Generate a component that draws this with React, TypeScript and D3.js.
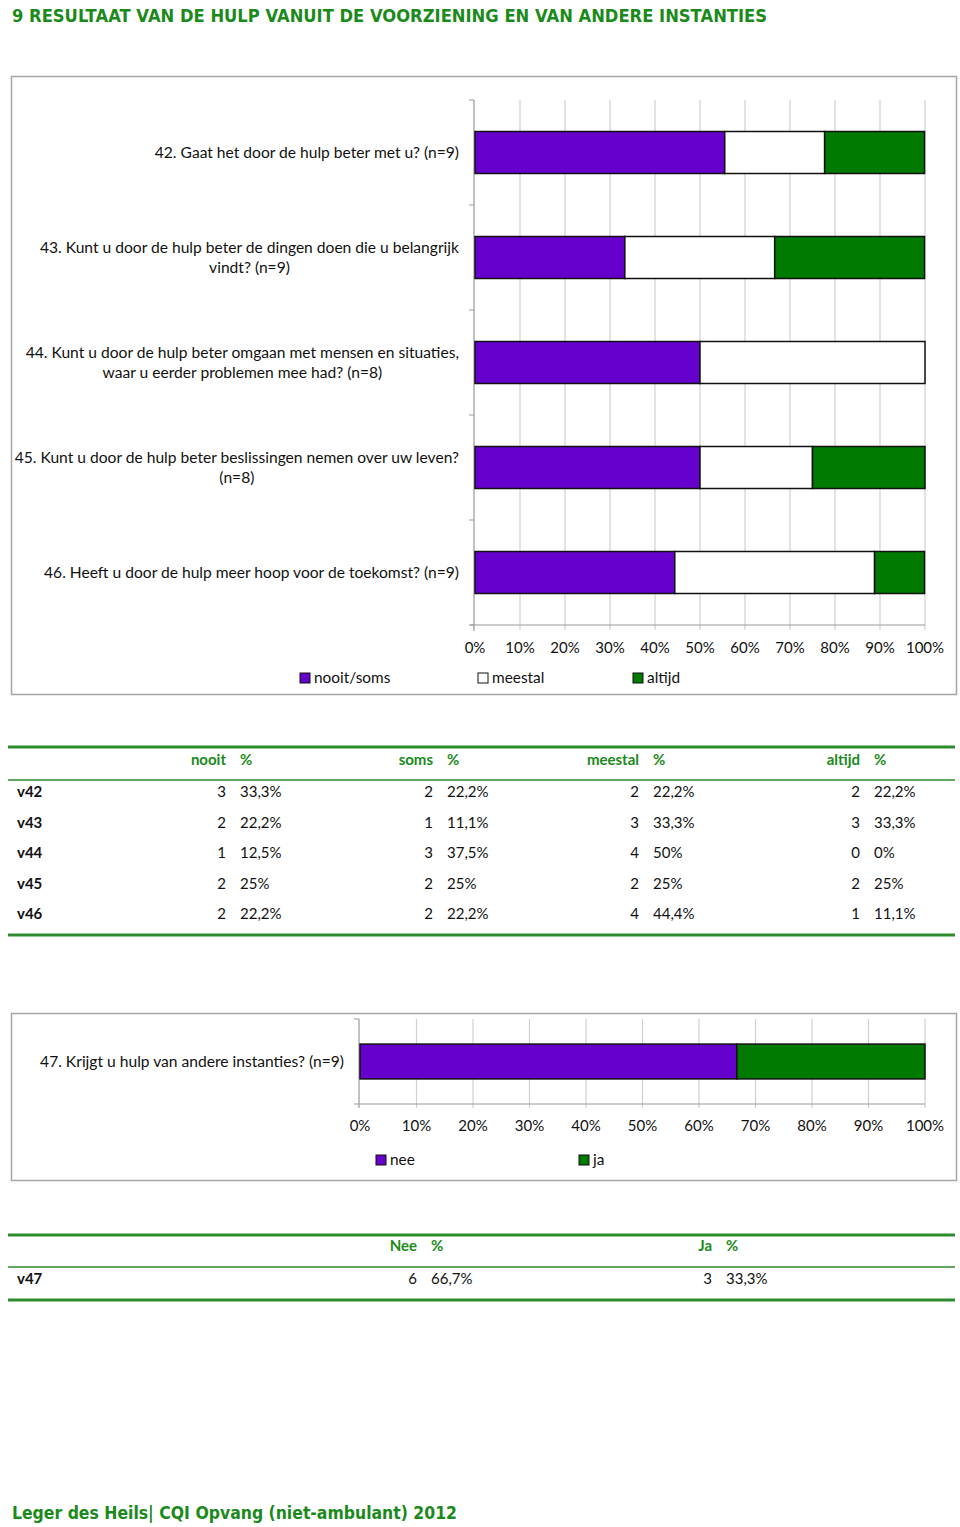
import React, { useEffect, useRef } from 'react';
import * as d3 from 'd3';

// chart 1: questions 42-46
const questions = [
  ['42. Gaat het door de hulp beter met u? (n=9)'],
  ['43. Kunt u door de hulp beter de dingen doen die u belangrijk', 'vindt?  (n=9)'],
  ['44. Kunt u door de hulp beter omgaan met mensen en situaties,', 'waar u eerder problemen mee had? (n=8)'],
  ['45. Kunt u door de hulp beter beslissingen nemen over uw leven?', '(n=8)'],
  ['46. Heeft u door de hulp meer hoop voor de toekomst? (n=9)'],
];
const rowCodes = ['v42', 'v43', 'v44', 'v45', 'v46'];
const nooitN = [3, 2, 1, 2, 2];
const nooitPct = [33.3, 22.2, 12.5, 25, 22.2];
const somsN = [2, 1, 3, 2, 2];
const somsPct = [22.2, 11.1, 37.5, 25, 22.2];
const meestalN = [2, 3, 4, 2, 4];
const meestalPct = [22.2, 33.3, 50, 25, 44.4];
const altijdN = [2, 3, 0, 2, 1];
const altijdPct = [22.2, 33.3, 0, 25, 11.1];

// chart 2: question 47
const question47 = '47. Krijgt u hulp van andere instanties? (n=9)';
const neeN = [6];
const neePct = [66.7];
const jaN = [3];
const jaPct = [33.3];

const ticks = [0, 10, 20, 30, 40, 50, 60, 70, 80, 90, 100];

const PURPLE = '#6600cc';
const GREEN = '#007a00';
const TXTGREEN = '#1a8a1a';
const FONT = 'Lato, "Open Sans", sans-serif';
const LABEL_SIZE = '15.6px';

const fmtPct = (v: number) => (Number.isInteger(v) ? `${v}%` : `${v.toFixed(1).replace('.', ',')}%`);

const App = () => {
  const svgRef = useRef<SVGSVGElement>(null);

  useEffect(() => {
    const svg = d3.select(svgRef.current);
    svg.selectAll('*').remove();
    svg.style('font-family', FONT);

    // Title
    svg.append('text')
      .attr('x', 12).attr('y', 22)
      .attr('textLength', 755).attr('lengthAdjust', 'spacingAndGlyphs')
      .style('font-family', '"DejaVu Sans", sans-serif')
      .style('font-weight', 'bold').style('font-size', '17px')
      .attr('fill', TXTGREEN)
      .text('9 RESULTAAT VAN DE HULP VANUIT DE VOORZIENING EN VAN ANDERE INSTANTIES');

    // Footer
    svg.append('text')
      .attr('x', 12).attr('y', 1519)
      .attr('textLength', 445).attr('lengthAdjust', 'spacingAndGlyphs')
      .style('font-family', '"DejaVu Sans", sans-serif')
      .style('font-weight', 'bold').style('font-size', '17px')
      .attr('fill', TXTGREEN)
      .text('Leger des Heils|  CQI Opvang (niet-ambulant) 2012');

    // ---------- Chart 1 ----------
    svg.append('rect')
      .attr('x', 11.5).attr('y', 76.5).attr('width', 945).attr('height', 618)
      .attr('fill', 'white').attr('stroke', '#a6a6a6').attr('stroke-width', 1.5);

    const x1 = d3.scaleLinear().domain([0, 100]).range([475, 925]);
    const y1 = d3.scaleBand<number>().domain(d3.range(questions.length))
      .range([100, 625]).paddingInner(0.6).paddingOuter(0.3);

    const g1 = svg.append('g');
    // gridlines
    g1.selectAll('.grid').data(ticks.slice(1)).enter().append('line')
      .attr('x1', d => x1(d)).attr('x2', d => x1(d))
      .attr('y1', 100).attr('y2', 630)
      .attr('stroke', '#d0d0d0').attr('stroke-width', 1.2);
    // axes
    g1.append('line').attr('x1', 474).attr('x2', 474).attr('y1', 100).attr('y2', 631)
      .attr('stroke', '#999').attr('stroke-width', 1.2);
    g1.append('line').attr('x1', 470).attr('x2', 925).attr('y1', 625).attr('y2', 625)
      .attr('stroke', '#999').attr('stroke-width', 1.2);
    g1.selectAll('.ytick').data(d3.range(questions.length + 1)).enter().append('line')
      .attr('x1', 469).attr('x2', 474)
      .attr('y1', i => 100 + i * y1.step()).attr('y2', i => 100 + i * y1.step())
      .attr('stroke', '#999');

    const rows1 = questions.map((q, i) => ({
      nooitsoms: nooitPct[i] + somsPct[i],
      meestal: meestalPct[i],
      altijd: altijdPct[i],
    }));
    const keys1 = ['nooitsoms', 'meestal', 'altijd'];
    const colors1: Record<string, string> = { nooitsoms: PURPLE, meestal: 'white', altijd: GREEN };
    const stacked1 = d3.stack<any>().keys(keys1)(rows1 as any);
    stacked1.forEach(layer => {
      g1.selectAll(`.bar-${layer.key}`).data(layer.map((d, i) => ({ d, i }))
        .filter(o => o.d[1] - o.d[0] > 0)).enter().append('rect')
        .attr('x', o => x1(o.d[0])).attr('width', o => x1(o.d[1]) - x1(o.d[0]))
        .attr('y', o => y1(o.i)!).attr('height', y1.bandwidth())
        .attr('fill', colors1[layer.key]).attr('stroke', '#111').attr('stroke-width', 1.5);
    });

    // category labels
    questions.forEach((lines, i) => {
      const cy = y1(i)! + y1.bandwidth() / 2;
      const t = g1.append('text').style('font-size', LABEL_SIZE).attr('fill', '#111');
      if (lines.length === 1) {
        t.attr('x', 459).attr('y', cy + 5).attr('text-anchor', 'end').text(lines[0]);
      } else {
        const tmp = g1.append('text').style('font-size', LABEL_SIZE).text(lines[0]);
        const w = (tmp.node() as SVGTextElement).getComputedTextLength();
        tmp.remove();
        const cx = 459 - w / 2;
        lines.forEach((ln, j) => {
          t.append('tspan').attr('x', cx).attr('y', cy - 5 + j * 20).attr('text-anchor', 'middle').text(ln);
        });
      }
    });

    // x tick labels
    g1.selectAll('.xlab').data(ticks).enter().append('text')
      .attr('x', d => x1(d)).attr('y', 653).attr('text-anchor', 'middle')
      .style('font-size', '15px').attr('fill', '#111').text(d => `${d}%`);

    // legend
    const legend1 = [
      { label: 'nooit/soms', color: PURPLE, x: 300 },
      { label: 'meestal', color: 'white', x: 478 },
      { label: 'altijd', color: GREEN, x: 633 },
    ];
    legend1.forEach(l => {
      g1.append('rect').attr('x', l.x).attr('y', 673).attr('width', 10).attr('height', 10)
        .attr('fill', l.color).attr('stroke', '#111');
      g1.append('text').attr('x', l.x + 14).attr('y', 683).style('font-size', '15.4px')
        .attr('fill', '#111').text(l.label);
    });

    // ---------- Table 1 ----------
    const t1 = svg.append('g');
    t1.append('line').attr('x1', 8).attr('x2', 955).attr('y1', 747).attr('y2', 747)
      .attr('stroke', '#2e8b2e').attr('stroke-width', 3);
    t1.append('line').attr('x1', 8).attr('x2', 955).attr('y1', 780).attr('y2', 780)
      .attr('stroke', '#2e8b2e').attr('stroke-width', 1.5);
    t1.append('line').attr('x1', 8).attr('x2', 955).attr('y1', 935).attr('y2', 935)
      .attr('stroke', '#2e8b2e').attr('stroke-width', 3);
    const colRight = [226, 433, 639, 860];
    const headers1 = ['nooit', 'soms', 'meestal', 'altijd'];
    headers1.forEach((h, c) => {
      t1.append('text').attr('x', colRight[c]).attr('y', 765).attr('text-anchor', 'end')
        .style('font-size', '15px').style('font-weight', 'bold').attr('fill', TXTGREEN).text(h);
      t1.append('text').attr('x', colRight[c] + 14).attr('y', 765)
        .style('font-size', '15px').style('font-weight', 'bold').attr('fill', TXTGREEN).text('%');
    });
    const counts1 = [nooitN, somsN, meestalN, altijdN];
    const pcts1 = [nooitPct, somsPct, meestalPct, altijdPct];
    rowCodes.forEach((code, r) => {
      const yy = 797 + r * 30.5;
      t1.append('text').attr('x', 17).attr('y', yy).style('font-size', '15px')
        .style('font-weight', 'bold').attr('fill', '#111').text(code);
      counts1.forEach((arr, c) => {
        t1.append('text').attr('x', colRight[c]).attr('y', yy).attr('text-anchor', 'end')
          .style('font-size', '15px').attr('fill', '#111').text(arr[r]);
        t1.append('text').attr('x', colRight[c] + 14).attr('y', yy)
          .style('font-size', '15px').attr('fill', '#111').text(fmtPct(pcts1[c][r]));
      });
    });

    // ---------- Chart 2 ----------
    svg.append('rect')
      .attr('x', 11.5).attr('y', 1013.5).attr('width', 945).attr('height', 167)
      .attr('fill', 'white').attr('stroke', '#a6a6a6').attr('stroke-width', 1.5);
    const x2 = d3.scaleLinear().domain([0, 100]).range([360, 925]);
    const y2 = d3.scaleBand<number>().domain([0]).range([1019, 1104]).paddingInner(0.59).paddingOuter(0.295);
    const g2 = svg.append('g');
    g2.selectAll('.grid').data(ticks.slice(1)).enter().append('line')
      .attr('x1', d => x2(d)).attr('x2', d => x2(d))
      .attr('y1', 1019).attr('y2', 1108)
      .attr('stroke', '#d0d0d0').attr('stroke-width', 1.2);
    g2.append('line').attr('x1', 359).attr('x2', 359).attr('y1', 1019).attr('y2', 1108)
      .attr('stroke', '#999').attr('stroke-width', 1.2);
    g2.append('line').attr('x1', 354).attr('x2', 925).attr('y1', 1104).attr('y2', 1104)
      .attr('stroke', '#999').attr('stroke-width', 1.2);
    g2.append('line').attr('x1', 354).attr('x2', 359).attr('y1', 1019).attr('y2', 1019).attr('stroke', '#999');

    const stacked2 = d3.stack<any>().keys(['nee', 'ja'])([{ nee: neePct[0], ja: jaPct[0] }] as any);
    const colors2: Record<string, string> = { nee: PURPLE, ja: GREEN };
    stacked2.forEach(layer => {
      g2.selectAll(`.bar-${layer.key}`).data(layer).enter().append('rect')
        .attr('x', d => x2(d[0])).attr('width', d => x2(d[1]) - x2(d[0]))
        .attr('y', y2(0)!).attr('height', y2.bandwidth())
        .attr('fill', colors2[layer.key]).attr('stroke', '#111').attr('stroke-width', 1.5);
    });
    g2.append('text').attr('x', 344).attr('y', y2(0)! + y2.bandwidth() / 2 + 5)
      .attr('text-anchor', 'end').style('font-size', LABEL_SIZE).attr('fill', '#111').text(question47);
    g2.selectAll('.xlab').data(ticks).enter().append('text')
      .attr('x', d => x2(d)).attr('y', 1131).attr('text-anchor', 'middle')
      .style('font-size', '15px').attr('fill', '#111').text(d => `${d}%`);
    const legend2 = [
      { label: 'nee', color: PURPLE, x: 376 },
      { label: 'ja', color: GREEN, x: 579 },
    ];
    legend2.forEach(l => {
      g2.append('rect').attr('x', l.x).attr('y', 1155).attr('width', 10).attr('height', 10)
        .attr('fill', l.color).attr('stroke', '#111');
      g2.append('text').attr('x', l.x + 14).attr('y', 1165).style('font-size', '15.4px')
        .attr('fill', '#111').text(l.label);
    });

    // ---------- Table 2 ----------
    const t2 = svg.append('g');
    t2.append('line').attr('x1', 8).attr('x2', 955).attr('y1', 1235).attr('y2', 1235)
      .attr('stroke', '#2e8b2e').attr('stroke-width', 3);
    t2.append('line').attr('x1', 8).attr('x2', 955).attr('y1', 1267).attr('y2', 1267)
      .attr('stroke', '#2e8b2e').attr('stroke-width', 1.5);
    t2.append('line').attr('x1', 8).attr('x2', 955).attr('y1', 1300).attr('y2', 1300)
      .attr('stroke', '#2e8b2e').attr('stroke-width', 3);
    const colRight2 = [417, 712];
    ['Nee', 'Ja'].forEach((h, c) => {
      t2.append('text').attr('x', colRight2[c]).attr('y', 1251).attr('text-anchor', 'end')
        .style('font-size', '15px').style('font-weight', 'bold').attr('fill', TXTGREEN).text(h);
      t2.append('text').attr('x', colRight2[c] + 14).attr('y', 1251)
        .style('font-size', '15px').style('font-weight', 'bold').attr('fill', TXTGREEN).text('%');
    });
    const counts2 = [neeN, jaN];
    const pcts2 = [neePct, jaPct];
    t2.append('text').attr('x', 17).attr('y', 1284).style('font-size', '15px')
      .style('font-weight', 'bold').attr('fill', '#111').text('v47');
    counts2.forEach((arr, c) => {
      t2.append('text').attr('x', colRight2[c]).attr('y', 1284).attr('text-anchor', 'end')
        .style('font-size', '15px').attr('fill', '#111').text(arr[0]);
      t2.append('text').attr('x', colRight2[c] + 14).attr('y', 1284)
        .style('font-size', '15px').attr('fill', '#111').text(fmtPct(pcts2[c][0]));
    });
  }, []);

  return (
    <svg ref={svgRef} width={960} height={1527}
      style={{ position: 'absolute', left: 0, top: 0, display: 'block', background: 'white' }} />
  );
};

export default App;
